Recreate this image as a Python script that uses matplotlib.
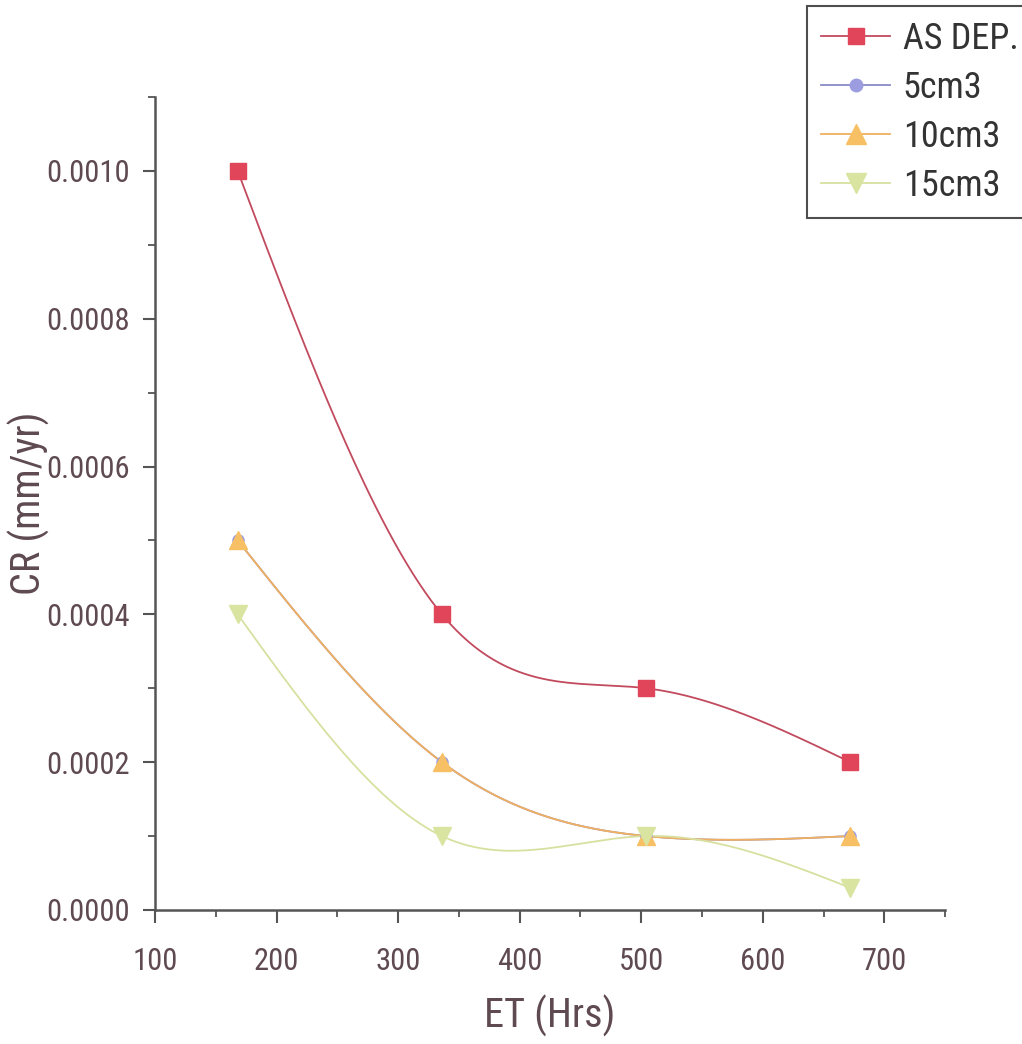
import numpy as np
import matplotlib
matplotlib.use("Agg")
import matplotlib.pyplot as plt
from matplotlib.ticker import MultipleLocator, FormatStrFormatter

# --- DATA ---
hours = [168, 336, 504, 672]
as_dep = [0.0010, 0.0004, 0.0003, 0.0002]
cm5 = [0.0005, 0.0002, 0.0001, 0.0001]
cm10 = [0.0005, 0.0002, 0.0001, 0.0001]
cm15 = [0.0004, 0.0001, 0.0001, 0.00003]

series_names = ["AS DEP.", "5cm3", "10cm3", "15cm3"]

plt.rcParams['font.family'] = ['Roboto Condensed', 'Liberation Sans Narrow', 'Liberation Sans']
TXT = '#5e4a50'


def natural_spline(x, y, n=200):
    """Natural cubic spline through the points, for the smooth connector line."""
    x = np.asarray(x, float)
    y = np.asarray(y, float)
    k = len(x)
    h = np.diff(x)
    A = np.zeros((k, k))
    b = np.zeros(k)
    A[0, 0] = A[-1, -1] = 1
    for i in range(1, k - 1):
        A[i, i - 1] = h[i - 1]
        A[i, i] = 2 * (h[i - 1] + h[i])
        A[i, i + 1] = h[i]
        b[i] = 6 * ((y[i + 1] - y[i]) / h[i] - (y[i] - y[i - 1]) / h[i - 1])
    M = np.linalg.solve(A, b)
    xs = np.linspace(x[0], x[-1], n)
    idx = np.clip(np.searchsorted(x, xs) - 1, 0, k - 2)
    x0, x1 = x[idx], x[idx + 1]
    hh = x1 - x0
    t1, t0 = x1 - xs, xs - x0
    ys = (M[idx] * t1 ** 3 + M[idx + 1] * t0 ** 3) / (6 * hh) \
        + (y[idx] / hh - M[idx] * hh / 6) * t1 \
        + (y[idx + 1] / hh - M[idx + 1] * hh / 6) * t0
    return xs, ys


fig = plt.figure(figsize=(10.22, 10.44), dpi=100)
ax = fig.add_axes([0.1517, 0.1284, 0.773, 0.7787])

# data, line colour, marker colour, marker, marker size
styles = [
    (as_dep, '#c24a5e', '#e0455a', 's', 11),
    (cm5, '#8a8ac8', '#9c9ce0', 'o', 8),
    (cm10, '#f0b060', '#f8c064', '^', 13),
    (cm15, '#d8e0a0', '#d8e4a0', 'v', 13),
]

handles = []
for (vals, lc, mc, mk, ms), name in zip(styles, series_names):
    xs, ys = natural_spline(hours, vals)
    ax.plot(xs, ys, color=lc, lw=1.3, zorder=2)
    ax.plot(hours, vals, ls='none', marker=mk, ms=ms, color=mc,
            markeredgecolor=mc, zorder=3)
    h, = ax.plot([], [], color=lc, lw=1.3, marker=mk, ms=ms + 1,
                 markerfacecolor=mc, markeredgecolor=mc)
    handles.append(h)

ax.set_xlim(100, 750)
ax.set_ylim(0, 0.0011)
ax.xaxis.set_major_locator(MultipleLocator(100))
ax.xaxis.set_minor_locator(MultipleLocator(50))
ax.yaxis.set_major_locator(MultipleLocator(0.0002))
ax.yaxis.set_minor_locator(MultipleLocator(0.0001))
ax.yaxis.set_major_formatter(FormatStrFormatter('%.4f'))

for s in ['top', 'right']:
    ax.spines[s].set_visible(False)
for s in ['left', 'bottom']:
    ax.spines[s].set_color('#555555')
    ax.spines[s].set_linewidth(1.8)

ax.tick_params(which='major', direction='out', length=9, width=1.5,
               colors='#555555', labelcolor=TXT, labelsize=22, pad=9)
ax.tick_params(axis='x', which='major', pad=18)
ax.tick_params(which='minor', direction='out', length=5, width=1.3, colors='#555555')

ax.set_xlabel('ET (Hrs)', fontsize=29, color=TXT)
ax.set_ylabel('CR (mm/yr)', fontsize=29, color=TXT)
ax.xaxis.set_label_coords(0.5, -0.105)
ax.yaxis.set_label_coords(-0.133, 0.5)

leg = fig.legend(handles, series_names, loc='upper left',
                 bbox_to_anchor=(0.7896, 0.994), borderaxespad=0, fontsize=26,
                 frameon=True, fancybox=False, edgecolor='#222222',
                 handlelength=1.9, borderpad=0.4, labelspacing=0.36,
                 handletextpad=0.35)
leg.get_frame().set_linewidth(1.5)
for t in leg.get_texts():
    t.set_color('#333333')

fig.savefig('out.png', dpi=100)
